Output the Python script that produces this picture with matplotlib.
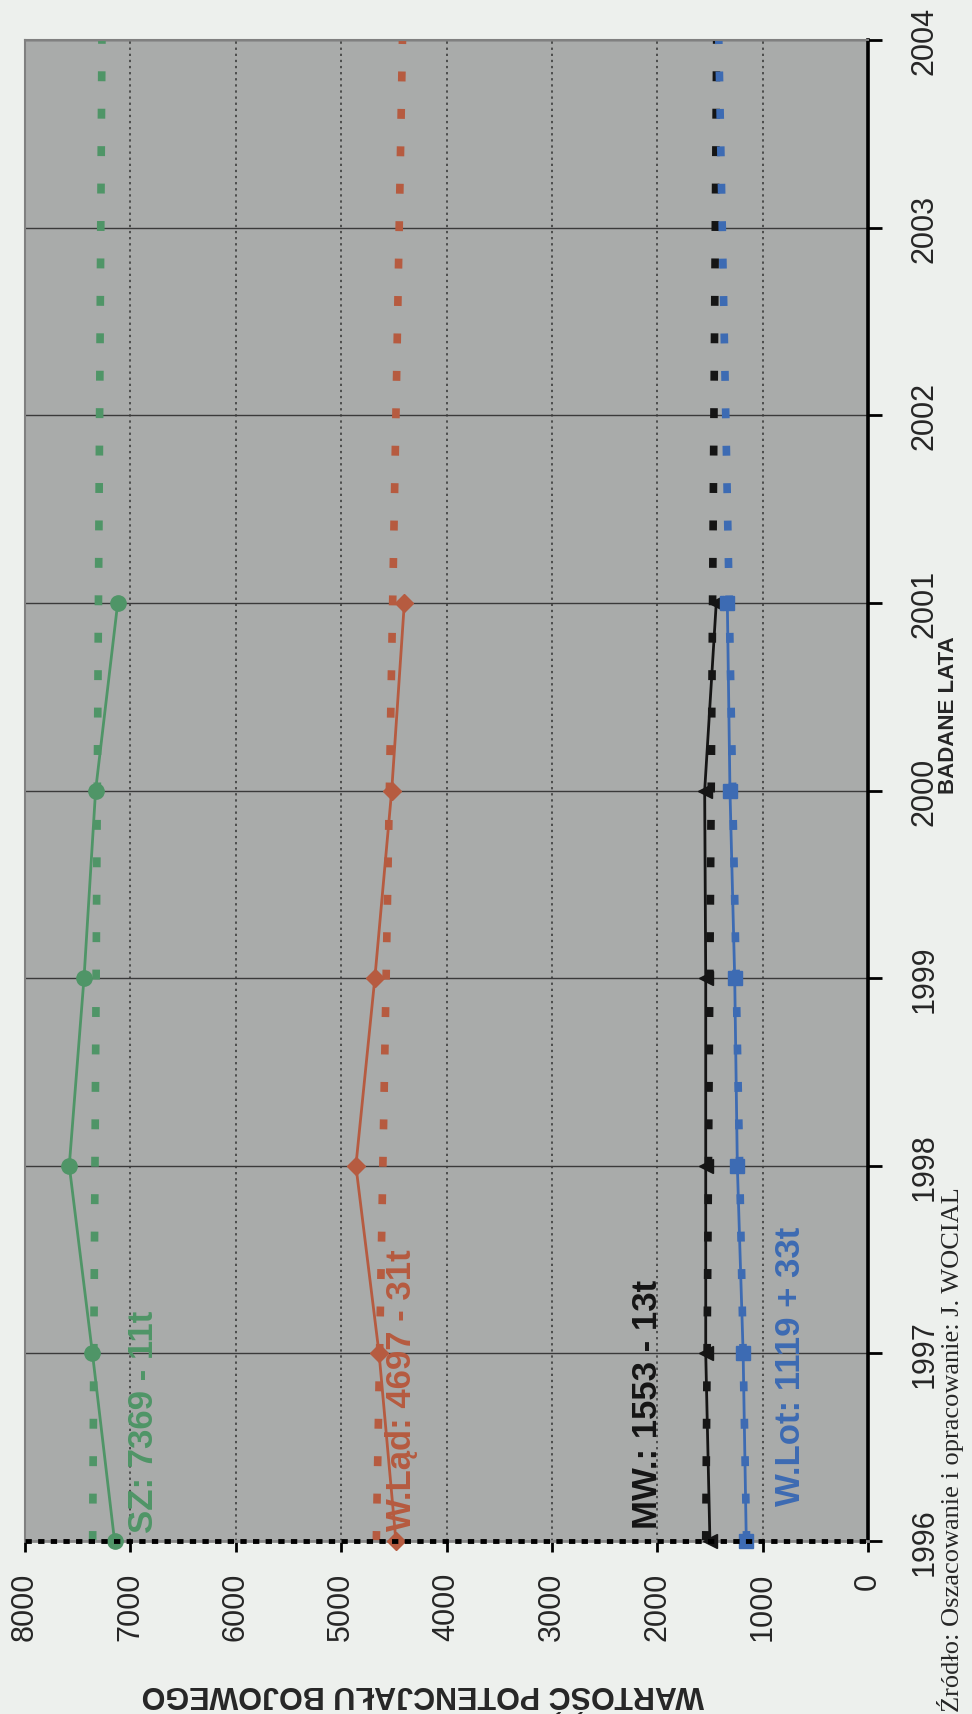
import matplotlib.pyplot as plt

plt.rcParams["font.family"] = ["Liberation Sans", "DejaVu Sans"]

# years on the category axis, one point per year
years = [1996, 1997, 1998, 1999, 2000, 2001]
year_ticks = [1996, 1997, 1998, 1999, 2000, 2001, 2002, 2003, 2004]
value_ticks = [0, 1000, 2000, 3000, 4000, 5000, 6000, 7000, 8000]

series_names = ["SZ", "W.Ląd", "MW", "W.Lot"]
sz_values = [7150, 7360, 7580, 7440, 7330, 7120]
wlad_values = [4480, 4640, 4860, 4680, 4520, 4400]
mw_values = [1500, 1540, 1540, 1540, 1550, 1440]
wlot_values = [1155, 1185, 1240, 1265, 1310, 1335]

# linear trends a + b*t, t = 1 for 1996 ... t = 9 for 2004
trend_a = [7369, 4697, 1553, 1119]
trend_b = [-11, -31, -13, 33]
trend_labels = ["SZ: 7369 - 11t", "W.Ląd: 4697 - 31t", "MW.: 1553 - 13t", "W.Lot: 1119 + 33t"]

BG_COLOR = "#edf0ed"
PLOT_BG = "#a9abaa"
TEXT_COLOR = "#262626"
GREEN = "#4f9567"
RED = "#b65b40"
BLACK = "#151515"
BLUE = "#3d6bb3"

fig = plt.figure(figsize=(9.72, 17.15), dpi=100, facecolor=BG_COLOR)
ax = fig.add_axes([25 / 972, 173 / 1715, 843 / 972, 1501 / 1715])
ax.set_facecolor(PLOT_BG)

# the chart is laid on its side: values run right-to-left, years bottom-to-top
ax.set_xlim(8000, 0)
ax.set_ylim(1996, 2004)

ax.set_xticks(value_ticks)
ax.set_xticklabels([str(v) for v in value_ticks], rotation=90, ha="center", va="top")
ax.set_yticks(year_ticks)
ax.yaxis.tick_right()
ax.set_yticklabels([str(y) for y in year_ticks], rotation=90, ha="left", va="center")
ax.tick_params(axis="x", direction="out", length=8, width=2, color="black",
               pad=14, labelsize=22, labelcolor=TEXT_COLOR)
ax.tick_params(axis="y", direction="out", length=10, width=2, color="black",
               pad=20, labelsize=22, labelcolor=TEXT_COLOR)

ax.xaxis.grid(True, linestyle=(0, (1.5, 2.5)), linewidth=1.1, color="#333333")
ax.yaxis.grid(True, linestyle="-", linewidth=1.0, color="#3a3a3a")
ax.set_axisbelow(True)

for spine in ["top", "left"]:
    ax.spines[spine].set_color("#808080")
    ax.spines[spine].set_linewidth(1.5)
ax.spines["right"].set_color("black")
ax.spines["right"].set_linewidth(2.6)
ax.spines["bottom"].set_color("#8a8a8a")
ax.spines["bottom"].set_linewidth(2)
ax.axhline(1996, color="black", linewidth=3.5, linestyle=(0, (1.3, 1.3)),
           clip_on=False, zorder=5)

colors = [GREEN, RED, BLACK, BLUE]
markers = ["o", "D", "<", "s"]
marker_sizes = [11, 9, 10, 10]
all_values = [sz_values, wlad_values, mw_values, wlot_values]

# dashed trend lines across the whole year range
for a, b, color in zip(trend_a, trend_b, colors):
    ax.plot([a + b * 1, a + b * 9], [1996, 2004], color=color, linewidth=5.5,
            linestyle=(0, (1.3, 3.6)), dash_capstyle="butt", zorder=2, clip_on=False)

for values, color, marker, ms, name in zip(all_values, colors, markers, marker_sizes, series_names):
    ax.plot(values, years, color=color, linewidth=2, marker=marker, markersize=ms,
            zorder=3, clip_on=False, label=name)

# trend equations written along the series
label_x = [6880, 4430, 2090, 740]
label_y = [1996.05, 1996.06, 1996.07, 1996.19]
for text, x, y, color in zip(trend_labels, label_x, label_y, colors):
    ax.text(x, y, text, rotation=90, rotation_mode="anchor", ha="left", va="center",
            fontsize=25, fontweight="bold", color=color, zorder=4)

ax.set_xlabel("WARTOŚĆ POTENCJAŁU BOJOWEGO", rotation=180, fontsize=22,
              fontweight="bold", color=TEXT_COLOR, ha="center", va="center")
ax.xaxis.set_label_coords(0.472, -0.101)
ax.yaxis.set_label_position("right")
ax.set_ylabel("BADANE LATA", rotation=90, fontsize=16, fontweight="bold",
              color=TEXT_COLOR, ha="center", va="center")
ax.yaxis.set_label_coords(1.095, 0.551)

fig.text(950 / 972, 3 / 1715, "Źródło: Oszacowanie i opracowanie: J. WOCIAL",
         rotation=90, rotation_mode="anchor", ha="left", va="center",
         fontsize=19, family=["Liberation Serif", "DejaVu Serif"], color=TEXT_COLOR)

fig.savefig("out.png", dpi=100, facecolor=BG_COLOR)
